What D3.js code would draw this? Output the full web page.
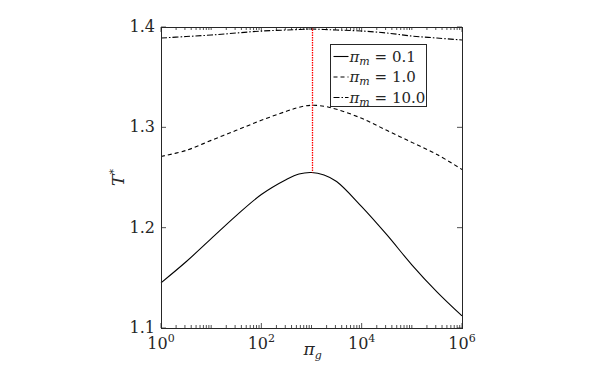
<!DOCTYPE html>
<html>
<head>
<meta charset="utf-8">
<script src="https://cdn.jsdelivr.net/npm/d3@7"></script>
<style>
	body { margin: 0; background: #fff; }
	text { font-family: "DejaVu Serif", serif; fill: #262626; }
	.frame { fill: none; stroke: #262626; stroke-width: 1; }
	.tick-line { stroke: #262626; stroke-width: 0.8; }
	.curve { fill: none; stroke: #000; stroke-width: 1.1; }
</style>
</head>
<body>
<div class="svg-container"></div>
<script>
// pi_g sample positions (log-spaced), T* values
var piG = [1, 3.162, 10, 31.62, 100, 316.2, 562.3, 1000, 1778, 3162, 1e4, 31620, 1e5, 316200, 1e6];
var tPm01 = [1.145, 1.166, 1.189, 1.212, 1.233, 1.248, 1.2535, 1.255, 1.2525, 1.246, 1.221, 1.193, 1.163, 1.136, 1.112];
var tPm1 = [1.271, 1.277, 1.287, 1.297, 1.307, 1.316, 1.320, 1.322, 1.321, 1.318, 1.309, 1.297, 1.285, 1.273, 1.258];
var tPm10 = [1.389, 1.3905, 1.392, 1.394, 1.396, 1.397, 1.3975, 1.398, 1.3975, 1.397, 1.396, 1.394, 1.391, 1.389, 1.387];
var seriesNames = ['0.1', '1.0', '10.0'];
var seriesDash = ['none', '4,3', '6,2,1.5,2'];
var peakPiG = 1000;
var peakT = 1.255;
var yTicks = [1.1, 1.2, 1.3, 1.4];
var xTickExps = [0, 2, 4, 6];

var width = 598, height = 369;
var pLeft = 161, pRight = 462, pTop = 27, pBottom = 328;

var svg = d3.select('.svg-container')
	.append('svg')
	.attr('width', width)
	.attr('height', height);

var xScale = d3.scaleLog().domain([1, 1e6]).range([pLeft, pRight]);
var yScale = d3.scaleLinear().domain([1.1, 1.4]).range([pBottom, pTop]);

// minor ticks on log axis (top and bottom, inward)
var minor = [];
for (var e = 0; e < 6; e++) {
	for (var m = 1; m < 10; m++) {
		if (m === 1 && e % 2 === 0) continue;
		minor.push(m * Math.pow(10, e));
	}
}
minor.forEach(function(v) {
	var x = xScale(v);
	svg.append('line').attr('class', 'tick-line')
		.attr('x1', x).attr('x2', x).attr('y1', pBottom).attr('y2', pBottom - 3);
	svg.append('line').attr('class', 'tick-line')
		.attr('x1', x).attr('x2', x).attr('y1', pTop).attr('y2', pTop + 3);
});
xTickExps.forEach(function(e) {
	var x = xScale(Math.pow(10, e));
	svg.append('line').attr('class', 'tick-line')
		.attr('x1', x).attr('x2', x).attr('y1', pBottom).attr('y2', pBottom - 5);
	svg.append('line').attr('class', 'tick-line')
		.attr('x1', x).attr('x2', x).attr('y1', pTop).attr('y2', pTop + 5);
	var t = svg.append('text')
		.attr('x', x)
		.attr('y', pBottom + 21)
		.attr('text-anchor', 'middle')
		.style('font-size', '16px');
	t.append('tspan').text('10');
	t.append('tspan').attr('dy', -7).style('font-size', '11px').text(e);
});

yTicks.forEach(function(v) {
	var y = yScale(v);
	svg.append('line').attr('class', 'tick-line')
		.attr('x1', pLeft).attr('x2', pLeft + 5).attr('y1', y).attr('y2', y);
	svg.append('line').attr('class', 'tick-line')
		.attr('x1', pRight).attr('x2', pRight - 5).attr('y1', y).attr('y2', y);
	svg.append('text')
		.text(v.toFixed(1))
		.attr('x', pLeft - 6)
		.attr('y', y + 5)
		.attr('text-anchor', 'end')
		.style('font-size', '16px');
});

var line = d3.line()
	.x(function(d) { return xScale(d[0]); })
	.y(function(d) { return yScale(d[1]); })
	.curve(d3.curveCatmullRom.alpha(0.5));

[tPm01, tPm1, tPm10].forEach(function(vals, i) {
	svg.append('path')
		.datum(piG.map(function(p, j) { return [p, vals[j]]; }))
		.attr('class', 'curve')
		.attr('stroke-dasharray', seriesDash[i])
		.attr('d', line);
});

// red dotted marker from top to the peak
var px = Math.round(xScale(peakPiG)) + 0.5;
svg.append('line')
	.attr('x1', px).attr('x2', px)
	.attr('y1', yScale(1.4)).attr('y2', yScale(peakT))
	.attr('stroke', '#ff0000')
	.attr('stroke-width', 1.3)
	.attr('stroke-dasharray', '1.5,1');

svg.append('rect')
	.attr('class', 'frame')
	.attr('x', pLeft + 0.5).attr('y', pTop + 0.5)
	.attr('width', pRight - pLeft).attr('height', pBottom - pTop);

// legend
var lg = svg.append('g').attr('transform', 'translate(330.5,44.5)');
lg.append('rect')
	.attr('width', 96).attr('height', 62)
	.attr('fill', '#fff').attr('stroke', '#262626').attr('stroke-width', 1);
seriesNames.forEach(function(name, i) {
	var y = 12 + i * 20.5;
	lg.append('line')
		.attr('x1', 3).attr('x2', 18).attr('y1', y).attr('y2', y)
		.attr('stroke', '#000').attr('stroke-width', 1.1)
		.attr('stroke-dasharray', seriesDash[i]);
	var t = lg.append('text').attr('x', 19).attr('y', y + 5).style('font-size', '15px');
	t.append('tspan').style('font-style', 'italic').text('π');
	t.append('tspan').attr('dy', 3).style('font-style', 'italic').style('font-size', '11px').text('m');
	t.append('tspan').attr('dy', -3).text(' = ' + name);
});

// axis labels
var xl = svg.append('text')
	.attr('x', xScale(1000) - 8)
	.attr('y', 355)
	.style('font-size', '17px');
xl.append('tspan').style('font-style', 'italic').text('π');
xl.append('tspan').attr('dy', 4).style('font-style', 'italic').style('font-size', '11px').text('g');

var yl = svg.append('text')
	.attr('transform', 'translate(124,' + ((pTop + pBottom) / 2) + ') rotate(-90)')
	.attr('text-anchor', 'middle')
	.style('font-size', '17px');
yl.append('tspan').style('font-style', 'italic').text('T');
yl.append('tspan').attr('dy', -7).style('font-size', '11px').text('*');
</script>
</body>
</html>
